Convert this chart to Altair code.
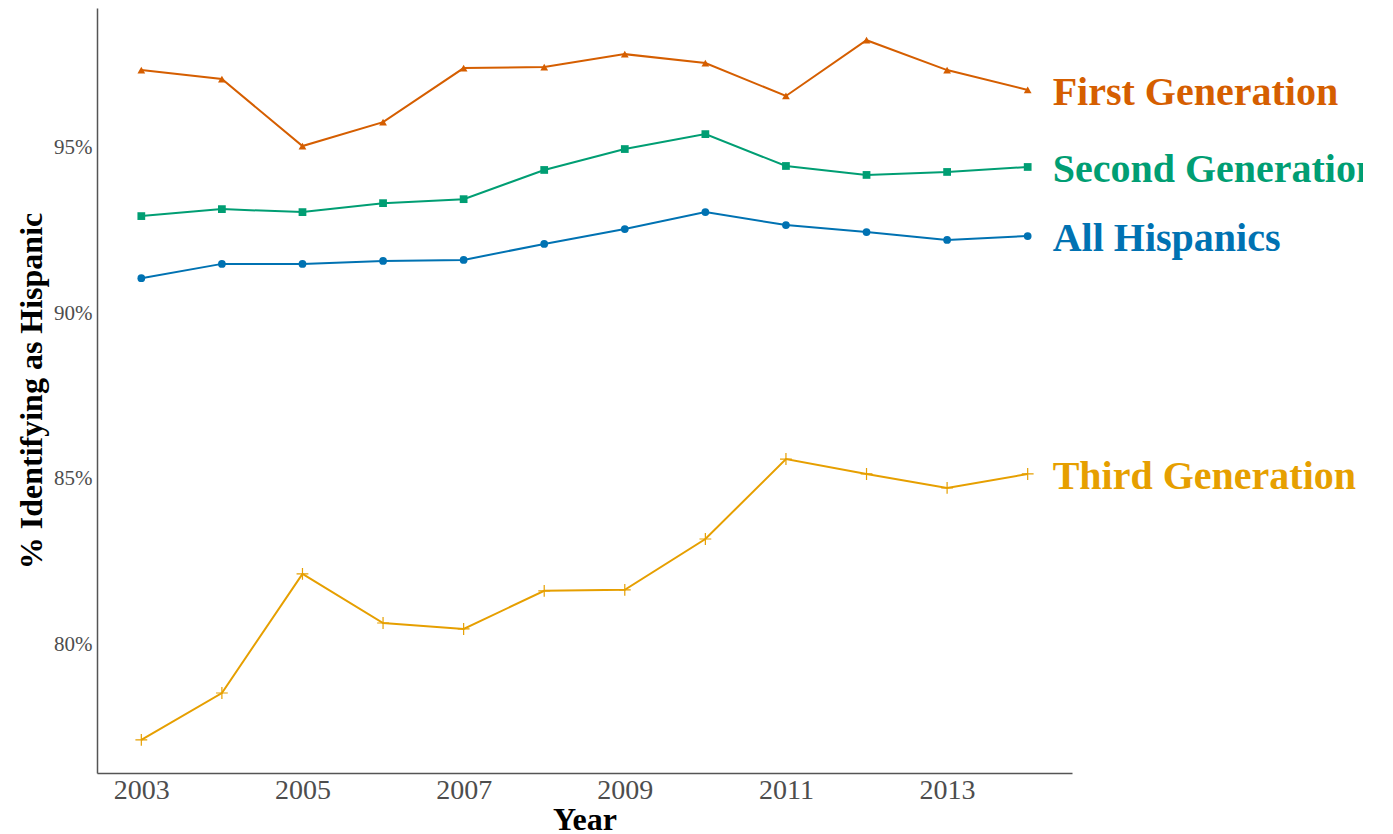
import altair as alt
import pandas as pd

years = list(range(2003, 2015))
first_gen = [97.32, 97.05, 95.03, 95.75, 97.38, 97.41, 97.80, 97.53, 96.54, 98.22, 97.32, 96.72]
second_gen = [92.92, 93.13, 93.04, 93.31, 93.43, 94.31, 94.94, 95.39, 94.43, 94.16, 94.25, 94.40]
all_hisp = [91.05, 91.48, 91.48, 91.57, 91.60, 92.08, 92.53, 93.04, 92.65, 92.44, 92.20, 92.32]
third_gen = [77.14, 78.55, 82.14, 80.66, 80.48, 81.63, 81.66, 83.19, 85.60, 85.15, 84.73, 85.15]

series_names = ["First Generation", "Second Generation", "All Hispanics", "Third Generation"]
series_values = [first_gen, second_gen, all_hisp, third_gen]
series_colors = ["#D55E00", "#009E73", "#0072B2", "#E69F00"]
series_shapes = ["triangle-up", "square", "circle", "M-1,0L1,0M0,-1L0,1"]

y_ticks = [80, 85, 90, 95]
x_ticks = [2003, 2005, 2007, 2009, 2011, 2013]

rows = []
for name, vals in zip(series_names, series_values):
    for yr, v in zip(years, vals):
        rows.append({"series": name, "year": yr, "value": v})
df = pd.DataFrame(rows)
last = df[df["year"] == years[-1]]

FONT = "Liberation Serif"

x = alt.X("year:Q",
          scale=alt.Scale(domain=[2002.45, 2014.55], nice=False, zero=False),
          axis=alt.Axis(values=x_ticks, format="d", title="Year",
                        labelFontSize=28, labelPadding=3,
                        titleFontSize=32, titleFontWeight="bold",
                        titleBaseline="alphabetic", titleY=56))
y = alt.Y("value:Q",
          scale=alt.Scale(domain=[76.14, 99.19], nice=False, zero=False),
          axis=alt.Axis(values=y_ticks, labelExpr="datum.value + '%'",
                        title="% Identifying as Hispanic",
                        labelFontSize=21, labelPadding=5,
                        titleFontSize=32, titleFontWeight="bold",
                        titlePadding=5))
color = alt.Color("series:N",
                  scale=alt.Scale(domain=series_names, range=series_colors),
                  legend=None)

base = alt.Chart(df)

lines = base.mark_line(strokeWidth=2).encode(x=x, y=y, color=color, detail="series:N")

filled_pts = base.transform_filter(
    alt.datum.series != "Third Generation"
).mark_point(filled=True, opacity=1, size=60).encode(
    x=x, y=y, color=color,
    shape=alt.Shape("series:N",
                    scale=alt.Scale(domain=series_names, range=series_shapes),
                    legend=None),
)

cross_pts = base.transform_filter(
    alt.datum.series == "Third Generation"
).mark_point(shape=series_shapes[3], filled=False, opacity=1, size=140, strokeWidth=1.2).encode(
    x=x, y=y, color=color,
)

labels = alt.Chart(last).mark_text(
    align="left", baseline="middle", dx=25, dy=3, fontSize=40, fontWeight="bold", font=FONT
).encode(x=x, y=y, text="series:N", color=color)

chart = alt.layer(lines, filled_pts, cross_pts, labels).properties(
    width=975, height=765,
    background="white",
    autosize=alt.AutoSizeParams(type="none"),
    padding={"left": 89, "top": 0, "right": 291, "bottom": 61},
).configure_view(stroke=None).configure_axis(
    grid=False, ticks=False, domainColor="#555555", domainWidth=1.5,
    labelFont=FONT, titleFont=FONT, labelColor="#4D4D4D", titleColor="#000000",
)

chart.save("out.html", embed_options={"renderer": "svg", "actions": False})
